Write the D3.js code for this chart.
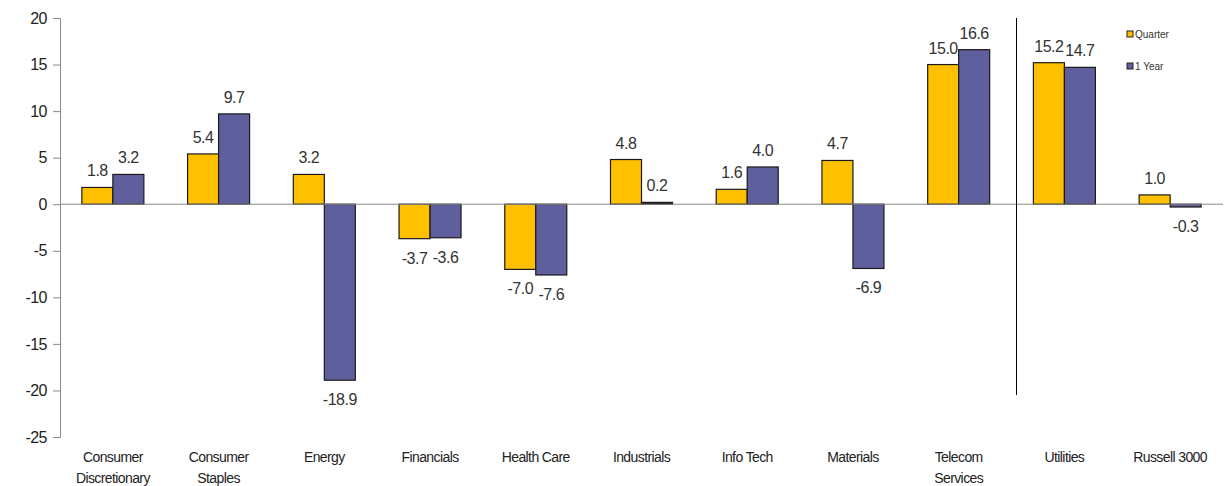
<!DOCTYPE html>
<html><head><meta charset="utf-8">
<script src="https://cdn.jsdelivr.net/npm/d3@7"></script>
<style>
body{margin:0;background:#fff;}
svg{display:block;font-family:"Liberation Sans",Arial,sans-serif;}
</style></head>
<body>
<svg id="c" width="1232" height="486"></svg>
<script>
const categories = [["Consumer","Discretionary"],["Consumer","Staples"],["Energy"],["Financials"],["Health Care"],["Industrials"],["Info Tech"],["Materials"],["Telecom","Services"],["Utilities"],["Russell 3000"]];
const seriesNames = ["Quarter","1 Year"];
const quarter = [1.8, 5.4, 3.2, -3.7, -7.0, 4.8, 1.6, 4.7, 15.0, 15.2, 1.0];
const oneYear = [3.2, 9.7, -18.9, -3.6, -7.6, 0.2, 4.0, -6.9, 16.6, 14.7, -0.3];
const yTicks = [20, 15, 10, 5, 0, -5, -10, -15, -20, -25];
const colors = ["#FFC000", "#5F5F9E"];

const svg = d3.select("#c");
const keys = categories.map((c,i)=>i);
const x = d3.scaleBand().domain(keys).range([60, 1223]).padding(0);
const y = d3.scaleLinear().domain([-25, 20]).range([437, 18]);
const bw = 31;
const x1 = d3.scaleBand().domain(seriesNames).range([x.bandwidth()/2 - bw, x.bandwidth()/2 + bw]).padding(0);

// y axis
const yAxis = d3.axisLeft(y).tickValues(yTicks).tickSize(7).tickPadding(6).tickFormat(d=>String(d));
const ga = svg.append("g").attr("transform","translate(60,0)").call(yAxis);
ga.select(".domain").attr("stroke","#888");
ga.selectAll(".tick line").attr("stroke","#888");
ga.selectAll(".tick text").attr("font-size","16px").attr("fill","#222").attr("letter-spacing","-0.5px");

const data = keys.map(i => [{s:"Quarter", v:quarter[i], i}, {s:"1 Year", v:oneYear[i], i}]);

const groups = svg.append("g").selectAll("g").data(data).join("g")
  .attr("transform", (d,i)=>`translate(${x(i)},0)`);

groups.selectAll("rect").data(d=>d).join("rect")
  .attr("x", d=>x1(d.s))
  .attr("width", x1.bandwidth())
  .attr("y", d=>y(Math.max(0,d.v)))
  .attr("height", d=>Math.abs(y(d.v)-y(0)))
  .attr("fill", d=> d.i===5 && d.s==="1 Year" ? "#111" : colors[seriesNames.indexOf(d.s)])
  .attr("stroke","#1a1a1a").attr("stroke-width",1.2);

// zero line
svg.append("line").attr("x1",60).attr("x2",1223).attr("y1",y(0)).attr("y2",y(0)).attr("stroke","#888");

// value labels
groups.selectAll("text.v").data(d=>d).join("text").attr("class","v")
  .attr("x", d=>x1(d.s)+x1.bandwidth()/2)
  .attr("y", d=> d.v>=0 ? y(d.v)-11 : y(d.v)+25)
  .attr("text-anchor","middle").attr("font-size","16px").attr("fill","#333")
  .attr("letter-spacing","-0.5px")
  .text(d=>d.v.toFixed(1));

// category labels
const cl = svg.append("g").selectAll("text").data(keys).join("text")
  .attr("x", i=>x(i)+x.bandwidth()/2).attr("y",462)
  .attr("text-anchor","middle").attr("font-size","14px").attr("fill","#222")
  .attr("letter-spacing","-0.6px");
cl.selectAll("tspan").data(i=>categories[i]).join("tspan")
  .attr("x", function(){return d3.select(this.parentNode).attr("x");})
  .attr("dy",(d,j)=> j===0 ? 0 : 21)
  .text(d=>d);

// separator line
svg.append("line").attr("x1",1016.5).attr("x2",1016.5).attr("y1",y(20)).attr("y2",395).attr("stroke","#000").attr("stroke-width",1);

// legend
const lg = svg.append("g").selectAll("g").data(seriesNames).join("g")
  .attr("transform",(d,i)=>`translate(1127,${31 + i*32})`);
lg.append("rect").attr("width",6).attr("height",6).attr("fill",(d,i)=>colors[i]).attr("stroke","#222").attr("stroke-width",1);
lg.append("text").attr("x",8).attr("y",7).attr("font-size","10px").attr("fill","#333").text(d=>d);
</script>
</body></html>
